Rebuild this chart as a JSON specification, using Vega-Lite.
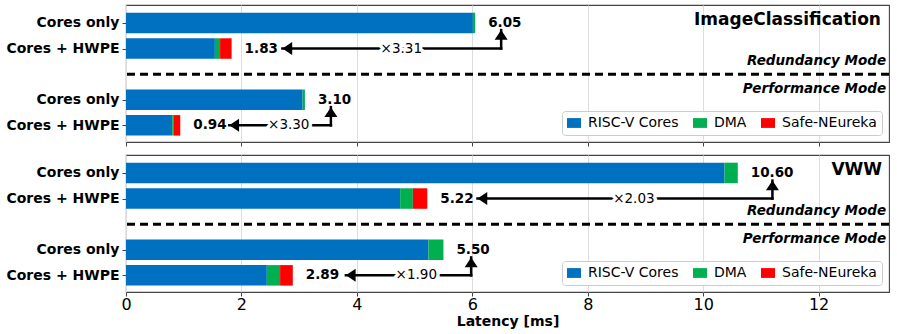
{
  "$schema": "https://vega.github.io/schema/vega-lite/v6.json",
  "padding": {"left": 5, "top": 4, "right": 5, "bottom": 5},
  "background": "white",
  "config": {
    "font": "DejaVu Sans",
    "view": {"stroke": "#444444", "strokeWidth": 1.1},
    "axis": {"labelFont": "DejaVu Sans", "titleFont": "DejaVu Sans", "labelColor": "black", "titleColor": "black", "tickColor": "#444444", "gridColor": "#dddddd", "gridWidth": 1}
  },
  "datasets": {
    "bars": [
      {"panel": "IC", "pos": 0, "component": "RISC-V Cores", "seq": 1, "value": 6.01},
      {"panel": "IC", "pos": 0, "component": "DMA", "seq": 2, "value": 0.04},
      {"panel": "IC", "pos": 1, "component": "RISC-V Cores", "seq": 1, "value": 1.54},
      {"panel": "IC", "pos": 1, "component": "DMA", "seq": 2, "value": 0.09},
      {"panel": "IC", "pos": 1, "component": "Safe-NEureka", "seq": 3, "value": 0.20},
      {"panel": "IC", "pos": 3, "component": "RISC-V Cores", "seq": 1, "value": 3.06},
      {"panel": "IC", "pos": 3, "component": "DMA", "seq": 2, "value": 0.04},
      {"panel": "IC", "pos": 4, "component": "RISC-V Cores", "seq": 1, "value": 0.80},
      {"panel": "IC", "pos": 4, "component": "DMA", "seq": 2, "value": 0.03},
      {"panel": "IC", "pos": 4, "component": "Safe-NEureka", "seq": 3, "value": 0.11},
      {"panel": "VWW", "pos": 0, "component": "RISC-V Cores", "seq": 1, "value": 10.37},
      {"panel": "VWW", "pos": 0, "component": "DMA", "seq": 2, "value": 0.23},
      {"panel": "VWW", "pos": 1, "component": "RISC-V Cores", "seq": 1, "value": 4.75},
      {"panel": "VWW", "pos": 1, "component": "DMA", "seq": 2, "value": 0.22},
      {"panel": "VWW", "pos": 1, "component": "Safe-NEureka", "seq": 3, "value": 0.25},
      {"panel": "VWW", "pos": 3, "component": "RISC-V Cores", "seq": 1, "value": 5.24},
      {"panel": "VWW", "pos": 3, "component": "DMA", "seq": 2, "value": 0.26},
      {"panel": "VWW", "pos": 4, "component": "RISC-V Cores", "seq": 1, "value": 2.44},
      {"panel": "VWW", "pos": 4, "component": "DMA", "seq": 2, "value": 0.23},
      {"panel": "VWW", "pos": 4, "component": "Safe-NEureka", "seq": 3, "value": 0.22}
    ],
    "totals": [
      {"panel": "IC", "pos": 0, "total": 6.05},
      {"panel": "IC", "pos": 1, "total": 1.83},
      {"panel": "IC", "pos": 3, "total": 3.10},
      {"panel": "IC", "pos": 4, "total": 0.94},
      {"panel": "VWW", "pos": 0, "total": 10.60},
      {"panel": "VWW", "pos": 1, "total": 5.22},
      {"panel": "VWW", "pos": 3, "total": 5.50},
      {"panel": "VWW", "pos": 4, "total": 2.89}
    ],
    "arrows": [
      {"panel": "IC", "y_h": 1, "y_tip": 0.28, "x_tip": 2.71, "x_corner": 6.50, "x_text": 4.77, "ratio": "×3.31"},
      {"panel": "IC", "y_h": 4, "y_tip": 3.29, "x_tip": 1.79, "x_corner": 3.55, "x_text": 2.82, "ratio": "×3.30"},
      {"panel": "VWW", "y_h": 1, "y_tip": 0.30, "x_tip": 6.09, "x_corner": 11.20, "x_text": 8.80, "ratio": "×2.03"},
      {"panel": "VWW", "y_h": 4, "y_tip": 3.30, "x_tip": 3.81, "x_corner": 5.98, "x_text": 5.03, "ratio": "×1.90"}
    ]
  },
  "vconcat": [
    {
      "width": 763,
      "height": 137,
      "layer": [
        {
          "data": {"name": "bars"},
          "transform": [{"filter": "datum.panel == 'IC'"}],
          "mark": {"type": "bar", "size": 20.5, "orient": "horizontal"},
          "encoding": {
            "x": {"field": "value", "type": "quantitative", "stack": "zero",
              "scale": {"domain": [0, 13.22], "nice": false, "zero": false, "padding": 0},
              "axis": {"values": [0, 2, 4, 6, 8, 10, 12], "labels": false, "title": null, "grid": true, "tickSize": 4, "domain": false}},
            "y": {"field": "pos", "type": "quantitative",
              "scale": {"domain": [-0.7, 4.65], "reverse": true, "nice": false, "zero": false, "padding": 0},
              "axis": {"values": [0, 1, 3, 4], "labelExpr": "datum.value == 0 || datum.value == 3 ? 'Cores only' : 'Cores + HWPE'", "title": null, "grid": false, "domain": false, "tickSize": 4, "labelFontSize": 14, "labelFontWeight": "bold", "labelPadding": 3}},
            "color": {"field": "component", "type": "nominal",
              "scale": {"domain": ["RISC-V Cores", "DMA", "Safe-NEureka"], "range": ["#0070C0", "#00B050", "#FF0000"]},
              "legend": {"title": null, "orient": "bottom-right", "direction": "horizontal", "offset": 7, "fillColor": "white", "strokeColor": "#cccccc", "padding": 5, "cornerRadius": 3, "symbolType": "M-1,-0.7H1V0.7H-1Z", "symbolSize": 196, "symbolStrokeWidth": 0, "labelFontSize": 14, "labelFont": "DejaVu Sans", "labelOffset": 7, "columnPadding": 14, "labelColor": "black"}},
            "order": {"field": "seq", "type": "quantitative"}
          }
        },
        {
          "data": {"values": [{}]},
          "mark": {"type": "rule", "strokeDash": [8, 5], "strokeWidth": 3, "color": "black"},
          "encoding": {"y": {"datum": 2, "type": "quantitative"}}
        },
        {
          "data": {"name": "totals"},
          "transform": [{"filter": "datum.panel == 'IC'"}],
          "mark": {"type": "text", "align": "left", "baseline": "middle", "dx": 13, "fontSize": 13.5, "fontWeight": "bold", "color": "black"},
          "encoding": {
            "x": {"field": "total", "type": "quantitative"},
            "y": {"field": "pos", "type": "quantitative"},
            "text": {"field": "total", "format": ".2f"}
          }
        },
        {
          "data": {"name": "arrows"},
          "transform": [{"filter": "datum.panel == 'IC'"}],
          "mark": {"type": "rule", "strokeWidth": 2.5, "color": "black", "strokeCap": "square"},
          "encoding": {
            "x": {"field": "x_tip", "type": "quantitative"},
            "x2": {"field": "x_corner"},
            "y": {"field": "y_h", "type": "quantitative"}
          }
        },
        {
          "data": {"name": "arrows"},
          "transform": [{"filter": "datum.panel == 'IC'"}],
          "mark": {"type": "rule", "strokeWidth": 2.5, "color": "black", "strokeCap": "square"},
          "encoding": {
            "x": {"field": "x_corner", "type": "quantitative"},
            "y": {"field": "y_h", "type": "quantitative"},
            "y2": {"field": "y_tip"}
          }
        },
        {
          "data": {"name": "arrows"},
          "transform": [{"filter": "datum.panel == 'IC'"}],
          "mark": {"type": "point", "filled": true, "shape": "M0,0L1.5,-1L1.5,1Z", "size": 169, "color": "black", "opacity": 1, "strokeWidth": 0},
          "encoding": {
            "x": {"field": "x_tip", "type": "quantitative"},
            "y": {"field": "y_h", "type": "quantitative"}
          }
        },
        {
          "data": {"name": "arrows"},
          "transform": [{"filter": "datum.panel == 'IC'"}],
          "mark": {"type": "point", "filled": true, "shape": "M0,0L1,1.5L-1,1.5Z", "size": 169, "color": "black", "opacity": 1, "strokeWidth": 0},
          "encoding": {
            "x": {"field": "x_corner", "type": "quantitative"},
            "y": {"field": "y_tip", "type": "quantitative"}
          }
        },
        {
          "data": {"name": "arrows"},
          "transform": [{"filter": "datum.panel == 'IC'"}],
          "mark": {"type": "text", "align": "center", "baseline": "middle", "fontSize": 13.5, "color": "white", "stroke": "white", "strokeWidth": 7, "strokeJoin": "round"},
          "encoding": {
            "x": {"field": "x_text", "type": "quantitative"},
            "y": {"field": "y_h", "type": "quantitative"},
            "text": {"field": "ratio"}
          }
        },
        {
          "data": {"name": "arrows"},
          "transform": [{"filter": "datum.panel == 'IC'"}],
          "mark": {"type": "text", "align": "center", "baseline": "middle", "fontSize": 13.5, "color": "black"},
          "encoding": {
            "x": {"field": "x_text", "type": "quantitative"},
            "y": {"field": "y_h", "type": "quantitative"},
            "text": {"field": "ratio"}
          }
        },
        {
          "data": {"values": [{}]},
          "mark": {"type": "text", "align": "right", "baseline": "middle", "fontSize": 17, "fontWeight": "bold", "color": "black"},
          "encoding": {
            "x": {"datum": 13.08, "type": "quantitative"},
            "y": {"datum": -0.12, "type": "quantitative"},
            "text": {"value": "ImageClassification"}
          }
        },
        {
          "data": {"values": [{}]},
          "mark": {"type": "text", "align": "right", "baseline": "middle", "fontSize": 13.5, "fontWeight": "bold", "fontStyle": "italic", "color": "black"},
          "encoding": {
            "x": {"datum": 13.17, "type": "quantitative"},
            "y": {"datum": 1.48, "type": "quantitative"},
            "text": {"value": "Redundancy Mode"}
          }
        },
        {
          "data": {"values": [{}]},
          "mark": {"type": "text", "align": "right", "baseline": "middle", "fontSize": 13.5, "fontWeight": "bold", "fontStyle": "italic", "color": "black"},
          "encoding": {
            "x": {"datum": 13.17, "type": "quantitative"},
            "y": {"datum": 2.59, "type": "quantitative"},
            "text": {"value": "Performance Mode"}
          }
        }
      ]
    },
    {
      "width": 763,
      "height": 137,
      "layer": [
        {
          "data": {"name": "bars"},
          "transform": [{"filter": "datum.panel == 'VWW'"}],
          "mark": {"type": "bar", "size": 20.5, "orient": "horizontal"},
          "encoding": {
            "x": {"field": "value", "type": "quantitative", "stack": "zero",
              "scale": {"domain": [0, 13.22], "nice": false, "zero": false, "padding": 0},
              "axis": {"values": [0, 2, 4, 6, 8, 10, 12], "format": "d", "labels": true, "title": "Latency [ms]", "grid": true, "tickSize": 4, "domain": false, "labelFontSize": 16, "labelPadding": 0, "labelFlush": false, "titleFontSize": 14, "titleFontWeight": "bold", "titlePadding": 2}},
            "y": {"field": "pos", "type": "quantitative",
              "scale": {"domain": [-0.7, 4.65], "reverse": true, "nice": false, "zero": false, "padding": 0},
              "axis": {"values": [0, 1, 3, 4], "labelExpr": "datum.value == 0 || datum.value == 3 ? 'Cores only' : 'Cores + HWPE'", "title": null, "grid": false, "domain": false, "tickSize": 4, "labelFontSize": 14, "labelFontWeight": "bold", "labelPadding": 3}},
            "color": {"field": "component", "type": "nominal",
              "scale": {"domain": ["RISC-V Cores", "DMA", "Safe-NEureka"], "range": ["#0070C0", "#00B050", "#FF0000"]},
              "legend": {"title": null, "orient": "bottom-right", "direction": "horizontal", "offset": 7, "fillColor": "white", "strokeColor": "#cccccc", "padding": 5, "cornerRadius": 3, "symbolType": "M-1,-0.7H1V0.7H-1Z", "symbolSize": 196, "symbolStrokeWidth": 0, "labelFontSize": 14, "labelFont": "DejaVu Sans", "labelOffset": 7, "columnPadding": 14, "labelColor": "black"}},
            "order": {"field": "seq", "type": "quantitative"}
          }
        },
        {
          "data": {"values": [{}]},
          "mark": {"type": "rule", "strokeDash": [8, 5], "strokeWidth": 3, "color": "black"},
          "encoding": {"y": {"datum": 2, "type": "quantitative"}}
        },
        {
          "data": {"name": "totals"},
          "transform": [{"filter": "datum.panel == 'VWW'"}],
          "mark": {"type": "text", "align": "left", "baseline": "middle", "dx": 13, "fontSize": 13.5, "fontWeight": "bold", "color": "black"},
          "encoding": {
            "x": {"field": "total", "type": "quantitative"},
            "y": {"field": "pos", "type": "quantitative"},
            "text": {"field": "total", "format": ".2f"}
          }
        },
        {
          "data": {"name": "arrows"},
          "transform": [{"filter": "datum.panel == 'VWW'"}],
          "mark": {"type": "rule", "strokeWidth": 2.5, "color": "black", "strokeCap": "square"},
          "encoding": {
            "x": {"field": "x_tip", "type": "quantitative"},
            "x2": {"field": "x_corner"},
            "y": {"field": "y_h", "type": "quantitative"}
          }
        },
        {
          "data": {"name": "arrows"},
          "transform": [{"filter": "datum.panel == 'VWW'"}],
          "mark": {"type": "rule", "strokeWidth": 2.5, "color": "black", "strokeCap": "square"},
          "encoding": {
            "x": {"field": "x_corner", "type": "quantitative"},
            "y": {"field": "y_h", "type": "quantitative"},
            "y2": {"field": "y_tip"}
          }
        },
        {
          "data": {"name": "arrows"},
          "transform": [{"filter": "datum.panel == 'VWW'"}],
          "mark": {"type": "point", "filled": true, "shape": "M0,0L1.5,-1L1.5,1Z", "size": 169, "color": "black", "opacity": 1, "strokeWidth": 0},
          "encoding": {
            "x": {"field": "x_tip", "type": "quantitative"},
            "y": {"field": "y_h", "type": "quantitative"}
          }
        },
        {
          "data": {"name": "arrows"},
          "transform": [{"filter": "datum.panel == 'VWW'"}],
          "mark": {"type": "point", "filled": true, "shape": "M0,0L1,1.5L-1,1.5Z", "size": 169, "color": "black", "opacity": 1, "strokeWidth": 0},
          "encoding": {
            "x": {"field": "x_corner", "type": "quantitative"},
            "y": {"field": "y_tip", "type": "quantitative"}
          }
        },
        {
          "data": {"name": "arrows"},
          "transform": [{"filter": "datum.panel == 'VWW'"}],
          "mark": {"type": "text", "align": "center", "baseline": "middle", "fontSize": 13.5, "color": "white", "stroke": "white", "strokeWidth": 7, "strokeJoin": "round"},
          "encoding": {
            "x": {"field": "x_text", "type": "quantitative"},
            "y": {"field": "y_h", "type": "quantitative"},
            "text": {"field": "ratio"}
          }
        },
        {
          "data": {"name": "arrows"},
          "transform": [{"filter": "datum.panel == 'VWW'"}],
          "mark": {"type": "text", "align": "center", "baseline": "middle", "fontSize": 13.5, "color": "black"},
          "encoding": {
            "x": {"field": "x_text", "type": "quantitative"},
            "y": {"field": "y_h", "type": "quantitative"},
            "text": {"field": "ratio"}
          }
        },
        {
          "data": {"values": [{}]},
          "mark": {"type": "text", "align": "right", "baseline": "middle", "fontSize": 17, "fontWeight": "bold", "color": "black"},
          "encoding": {
            "x": {"datum": 13.1, "type": "quantitative"},
            "y": {"datum": -0.12, "type": "quantitative"},
            "text": {"value": "VWW"}
          }
        },
        {
          "data": {"values": [{}]},
          "mark": {"type": "text", "align": "right", "baseline": "middle", "fontSize": 13.5, "fontWeight": "bold", "fontStyle": "italic", "color": "black"},
          "encoding": {
            "x": {"datum": 13.17, "type": "quantitative"},
            "y": {"datum": 1.48, "type": "quantitative"},
            "text": {"value": "Redundancy Mode"}
          }
        },
        {
          "data": {"values": [{}]},
          "mark": {"type": "text", "align": "right", "baseline": "middle", "fontSize": 13.5, "fontWeight": "bold", "fontStyle": "italic", "color": "black"},
          "encoding": {
            "x": {"datum": 13.17, "type": "quantitative"},
            "y": {"datum": 2.59, "type": "quantitative"},
            "text": {"value": "Performance Mode"}
          }
        }
      ]
    }
  ],
  "spacing": 6,
  "resolve": {"scale": {"color": "independent", "x": "independent", "y": "independent"}, "legend": {"color": "independent"}}
}
